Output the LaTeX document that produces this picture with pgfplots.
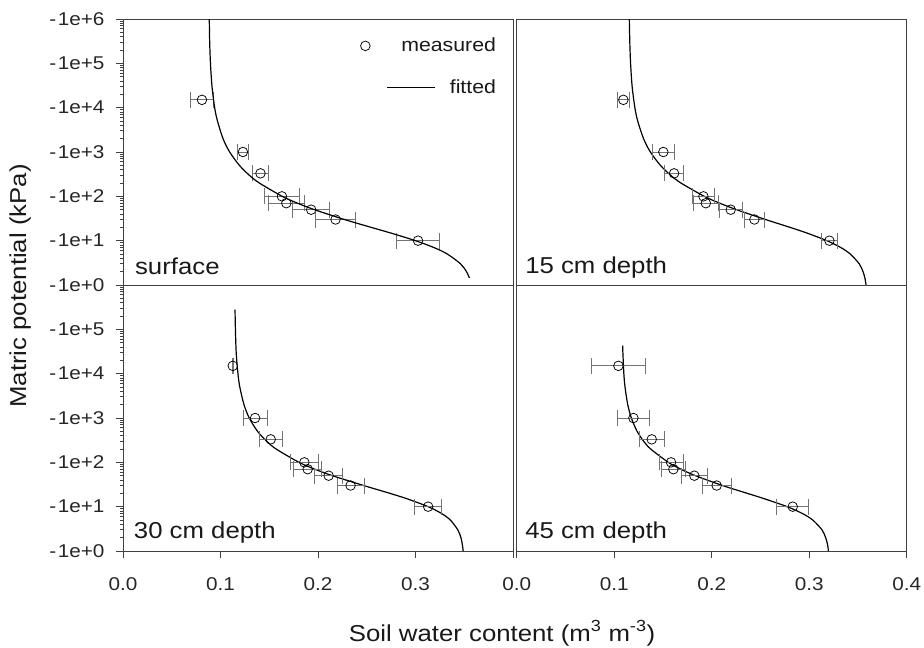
\documentclass[border=0pt]{standalone}
\usepackage{fontspec}
\setmainfont{Liberation Sans}[FakeStretch=1.12]
\usepackage{pgfplots}
\pgfplotsset{compat=1.18}
\usepackage{pgfplotstable}

% measured: theta, h (kPa, shown negative), x error
\pgfplotstableread{
t h e
0.0810 15000 0.0115
0.1230 1000 0.0060
0.1410 330 0.0080
0.1630 100 0.0180
0.1675 70 0.0186
0.1930 50 0.0190
0.2180 30 0.0205
0.3026 10 0.0220
}\mTL
\pgfplotstableread{
t h e
0.1094 15000 0.0065
0.1504 1000 0.0110
0.1614 330 0.0100
0.1915 100 0.0110
0.1940 70 0.0130
0.2195 50 0.0120
0.2438 30 0.0106
0.3207 10 0.0085
}\mTR
\pgfplotstableread{
t h e
0.1126 15000 0.0006
0.1355 1000 0.0123
0.1515 330 0.0116
0.1860 100 0.0145
0.1894 70 0.0142
0.2109 50 0.0142
0.2334 30 0.0138
0.3130 10 0.0140
}\mBL
\pgfplotstableread{
t h e
0.1043 15000 0.0280
0.1197 1000 0.0166
0.1385 330 0.0130
0.1583 100 0.0123
0.1607 70 0.0125
0.1822 50 0.0133
0.2051 30 0.0150
0.2831 10 0.0166
}\mBR

% fitted curves
\pgfplotstableread{
t h
0.0885 1000000
0.0889 300000
0.0897 100000
0.0913 30000
0.0940 10000
0.0969 5000
0.1026 2000
0.1094 1000
0.1194 500
0.1295 300
0.1398 200
0.1633 100
0.1790 70
0.1964 50
0.2272 30
0.2544 20
0.2741 15
0.2999 10
0.3189 7
0.3326 5
0.3462 3
0.3523 2
0.3553 1.44
}\fTL
\pgfplotstableread{
t h
0.1155 1000000
0.1160 300000
0.1168 100000
0.1184 30000
0.1212 10000
0.1241 5000
0.1301 2000
0.1371 1000
0.1474 500
0.1578 300
0.1684 200
0.1924 100
0.2083 70
0.2255 50
0.2552 30
0.2802 20
0.2972 15
0.3181 10
0.3324 7
0.3421 5
0.3513 3
0.3552 2
0.3569 1.5
0.3578 1.2
0.3583 1
}\fTR
\pgfplotstableread{
t h
0.1149 280000
0.1153 100000
0.1161 30000
0.1179 10000
0.1198 5000
0.1241 2000
0.1295 1000
0.1380 500
0.1473 300
0.1570 200
0.1805 100
0.1967 70
0.2148 50
0.2468 30
0.2737 20
0.2916 15
0.3130 10
0.3268 7
0.3357 5
0.3434 3
0.3466 2
0.3478 1.5
0.3485 1.2
0.3489 1
}\fBL
\pgfplotstableread{
t h
0.1087 43000
0.1089 30000
0.1099 10000
0.1111 5000
0.1139 2000
0.1176 1000
0.1235 500
0.1302 300
0.1374 200
0.1555 100
0.1684 70
0.1833 50
0.2111 30
0.2364 20
0.2544 15
0.2774 10
0.2931 7
0.3036 5
0.3131 3
0.3169 2
0.3185 1.5
0.3193 1.2
0.3197 1
}\fBR

\newcommand\yl[1]{-\hspace{1.5pt}1e+#1}
\newcommand\ticfont{\fontsize{18.5}{21}\selectfont}
\newcommand\labfont{\fontsize{23}{26}\selectfont}

\begin{document}
\begin{tikzpicture}
\useasboundingbox (0pt,0pt) rectangle (924pt,-648pt);

% top left
\begin{axis}[at={(123pt,-19pt)}, anchor=north west,
    scale only axis, width=390pt, height=266pt,
    xmin=0, xmax=0.4, ymode=log, ymin=1, ymax=1000000,
    axis line style={black!75, line width=0.9pt},
    tick style={black!75, line width=0.9pt},
    tick align=outside, major tick length=7pt,
    xtick pos=bottom, ytick pos=left,
    ytick={1,10,100,1000,10000,100000,1000000},
    xtick=\empty,
    ticklabel style={font=\ticfont, text=black!85},
    yticklabel style={xshift=-8pt},
    yticklabels={\yl{0},\yl{1},\yl{2},\yl{3},\yl{4},\yl{5},\yl{6}},
    legend cell align=right,
    legend style={draw=none, fill=none, at={(0.962,0.936)}, anchor=north east,
      font=\fontsize{19}{22}\selectfont, row sep=22pt, column sep=4pt, inner sep=0pt, text=black!90},
]
\addplot[only marks, mark=o, mark size=4.8pt, black, mark options={line width=0.75pt}, forget plot,
  error bars/.cd, x dir=both, x explicit,
  error bar style={black!55, line width=0.9pt},
  error mark options={black!55, mark size=8pt, line width=0.9pt, rotate=90}]
  table[x=t, y=h, x error=e] {\mTL};
\addlegendimage{legend image code/.code={\path[draw=none] (0pt,0pt) -- (20pt,0pt); \draw[black, line width=0.75pt] (-10pt,0pt) circle[radius=4.8pt];}}
\addlegendentry{measured}
\addplot[black, line width=1.2pt, no marks, smooth, forget plot] table[x=t, y=h] {\fTL};
\addlegendimage{legend image code/.code={\path[draw=none] (0pt,0pt) -- (20pt,0pt); \draw[black, line width=1.2pt, overlay] (12pt,0pt) -- (60pt,0pt);}}
\addlegendentry{fitted}
\node[anchor=base west, font=\labfont, text=black!90] at (axis description cs:0.022,0.04) {surface};
\end{axis}

% top right
\begin{axis}[at={(516.7pt,-19pt)}, anchor=north west,
    scale only axis, width=390pt, height=266pt,
    xmin=0, xmax=0.4, ymode=log, ymin=1, ymax=1000000,
    axis line style={black!75, line width=0.9pt},
    xtick=\empty, ytick=\empty]
\addplot[black, line width=1.2pt, no marks, smooth] table[x=t, y=h] {\fTR};
\addplot[only marks, mark=o, mark size=4.8pt, black, mark options={line width=0.75pt},
  error bars/.cd, x dir=both, x explicit,
  error bar style={black!55, line width=0.9pt},
  error mark options={black!55, mark size=8pt, line width=0.9pt, rotate=90}]
  table[x=t, y=h, x error=e] {\mTR};
\node[anchor=base west, font=\labfont, text=black!90] at (axis description cs:0.013,0.045) {15 cm depth};
\end{axis}

% bottom left
\begin{axis}[at={(123pt,-285pt)}, anchor=north west,
    scale only axis, width=390pt, height=266pt,
    xmin=0, xmax=0.4, ymode=log, ymin=1, ymax=1000000,
    axis line style={black!75, line width=0.9pt},
    tick style={black!75, line width=0.9pt},
    tick align=outside, major tick length=7pt,
    xtick pos=bottom, ytick pos=left,
    ytick={1,10,100,1000,10000,100000,1000000},
    xtick={0,0.1,0.2,0.3,0.4},
    ticklabel style={font=\ticfont, text=black!85},
    yticklabel style={xshift=-8pt},
    xticklabel style={yshift=-16pt},
    xticklabels={0.0,0.1,0.2,0.3,{}},
    yticklabels={\yl{0},\yl{1},\yl{2},\yl{3},\yl{4},\yl{5},{}}]
\addplot[black, line width=1.2pt, no marks, smooth] table[x=t, y=h] {\fBL};
\addplot[only marks, mark=o, mark size=4.8pt, black, mark options={line width=0.75pt},
  error bars/.cd, x dir=both, x explicit,
  error bar style={black!55, line width=0.9pt},
  error mark options={black!55, mark size=8pt, line width=0.9pt, rotate=90}]
  table[x=t, y=h, x error=e] {\mBL};
\node[anchor=base west, font=\labfont, text=black!90] at (axis description cs:0.019,0.046) {30 cm depth};
\end{axis}

% bottom right
\begin{axis}[at={(516.7pt,-285pt)}, anchor=north west,
    scale only axis, width=390pt, height=266pt,
    xmin=0, xmax=0.4, ymode=log, ymin=1, ymax=1000000,
    axis line style={black!75, line width=0.9pt},
    tick style={black!75, line width=0.9pt},
    tick align=outside, major tick length=7pt,
    xtick pos=bottom, ytick=\empty,
    xtick={0,0.1,0.2,0.3,0.4},
    ticklabel style={font=\ticfont, text=black!85},
    xticklabel style={yshift=-16pt},
    xticklabels={0.0,0.1,0.2,0.3,0.4}]
\addplot[black, line width=1.2pt, no marks, smooth] table[x=t, y=h] {\fBR};
\addplot[only marks, mark=o, mark size=4.8pt, black, mark options={line width=0.75pt},
  error bars/.cd, x dir=both, x explicit,
  error bar style={black!55, line width=0.9pt},
  error mark options={black!55, mark size=8pt, line width=0.9pt, rotate=90}]
  table[x=t, y=h, x error=e] {\mBR};
\node[anchor=base west, font=\labfont, text=black!90] at (axis description cs:0.013,0.046) {45 cm depth};
\end{axis}

\node[rotate=90, anchor=base, font=\labfont, text=black!90] at (26pt,-286pt) {Matric potential (kPa)};
\node[anchor=base, font=\labfont, text=black!90] at (502pt,-641pt) {Soil water content (m\textsuperscript{3} m\textsuperscript{-3})};
\end{tikzpicture}
\end{document}
